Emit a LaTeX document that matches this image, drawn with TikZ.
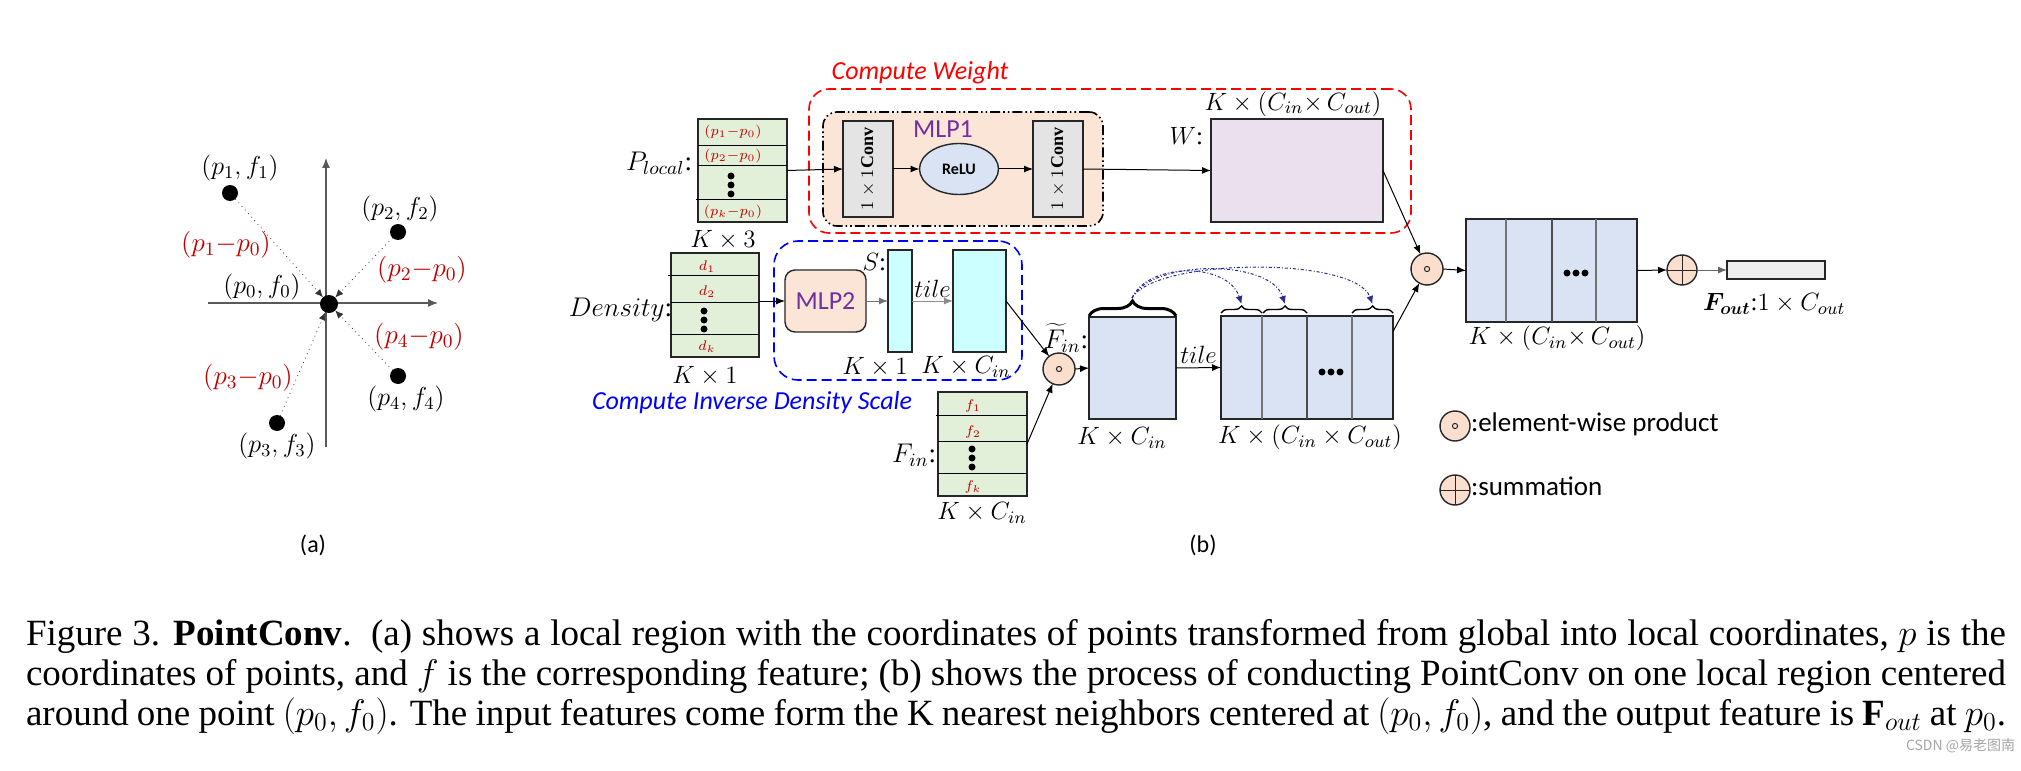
\RequirePackage{fix-cm}
\documentclass[tikz,border=0pt]{standalone}
\usepackage{fontspec}
\setmainfont{Liberation Serif}
\newfontfamily\calib{Carlito}
\newfontfamily\cjkfont{Noto Sans CJK SC}
\usepackage{bm}
\usetikzlibrary{arrows.meta,decorations.pathreplacing,shapes.geometric}
\definecolor{dred}{HTML}{C00000}
\definecolor{tgreen}{HTML}{E2EFD9}
\definecolor{peach}{HTML}{FBE5D6}
\definecolor{peach2}{HTML}{FADFCF}
\definecolor{cgray}{HTML}{E4E4E4}
\definecolor{lblue}{HTML}{DAE3F3}
\definecolor{lav}{HTML}{EBE1EE}
\definecolor{cyanb}{HTML}{CCFFFF}
\definecolor{fgray}{HTML}{EDEDED}
\definecolor{purp}{HTML}{7030A0}
\definecolor{navy}{HTML}{2A2F8F}
\begin{document}
\begin{tikzpicture}[x=0.5pt,y=-0.5pt,
  every node/.style={inner sep=0pt, outer sep=0pt},
  lab/.style={font=\fontsize{12.5}{14}\selectfont},
  plab/.style={font=\fontsize{13}{15}\selectfont},
  rlab/.style={font=\fontsize{13.5}{15}\selectfont, text=dred},
  cell/.style={font=\fontsize{7}{8}\selectfont, text=dred},
  dot/.style={circle, fill=black, minimum size=8pt},
  axis/.style={-{Latex[length=5pt,width=4pt]}, line width=0.6pt, draw=black!65},
  darr/.style={-{Latex[length=4pt,width=3.5pt]}, line width=0.4pt, dotted, draw=black!80},
  bx/.style={draw=black!85, line width=0.7pt},
  tbl/.style={bx, fill=tgreen},
  conv/.style={bx, fill=cgray, minimum width=25pt, minimum height=48pt},
  arr/.style={-{Latex[length=4.5pt,width=3.5pt]}, line width=0.5pt},
  capt/.style={font=\calib\fontsize{12}{14}\selectfont},
  op/.style={circle, draw=black!85, line width=0.7pt, fill=peach2, minimum size=16pt},
  odot/.style={op, path picture={\draw[line width=0.5pt] (path picture bounding box.center) circle (1.3pt);}},
  oplus/.style={op, path picture={\draw[line width=0.5pt] (path picture bounding box.north) -- (path picture bounding box.south) (path picture bounding box.west) -- (path picture bounding box.east);}},
  arcd/.style={-{Latex[length=4pt,width=3.5pt]}, draw=navy, line width=0.5pt, dash pattern=on 1.5pt off 1pt on 0.5pt off 1pt},
  sbrace/.style={decorate, decoration={brace, amplitude=3.5pt}, line width=0.7pt},
]
\useasboundingbox (0,0) rectangle (2021,770);
\fill[white] (0,0) rectangle (2021,770);

% ---------------- (a) ----------------
\draw[axis] (208,303) -- (438,303);
\draw[axis] (326,447) -- (326,158);
\node[dot, minimum size=9pt] (p0) at (329,304) {};
\node[dot] (p1) at (230,193) {};
\node[dot] (p2) at (398,232) {};
\node[dot] (p3) at (277,423) {};
\node[dot] (p4) at (398,376) {};
\draw[darr] (p1) -- (p0);
\draw[darr] (p2) -- (p0);
\draw[darr] (p3) -- (p0);
\draw[darr] (p4) -- (p0);
\node[plab] (l1) at (240,168) {$(p_1, f_1)$};
\node[plab] (l2) at (400,209) {$(p_2, f_2)$};
\node[plab] (l0) at (262,287) {$(p_0, f_0)$};
\node[plab] (l4) at (406,399) {$(p_4, f_4)$};
\node[plab] (l3) at (277,446) {$(p_3, f_3)$};
\node[rlab] (r1) at (226,245) {$(p_1{-}p_0)$};
\node[rlab] (r2) at (422,270) {$(p_2{-}p_0)$};
\node[rlab] (r4) at (419,337) {$(p_4{-}p_0)$};
\node[rlab] (r3) at (248,378) {$(p_3{-}p_0)$};
\node[capt] (la) at (313,545) {(a)};

% ---------------- (b) ----------------
% Compute Weight group
\node[draw=red, line width=0.8pt, dash pattern=on 5pt off 2.5pt, rounded corners=10pt,
      minimum width=301pt, minimum height=72pt] (cw) at (1110,161) {};
\node[font=\calib\itshape\fontsize{13}{14}\selectfont, text=red] (cwt) at (920,73) {Compute Weight};
\node[draw=black, fill=peach, line width=0.8pt, rounded corners=7pt,
      dash pattern=on 5pt off 1.5pt on 0.8pt off 1.5pt on 0.8pt off 1.5pt,
      minimum width=140pt, minimum height=57pt] (mlp1) at (963,169) {};
\node[font=\calib\fontsize{13}{14}\selectfont, text=purp] (mlp1t) at (943,129) {MLP1};
\node[conv] (c1) at (868,169) {};
\node[rotate=90, font=\fontsize{9}{10}\selectfont] (c1t) at (c1) {$1\times 1$\textbf{Conv}};
\node[ellipse, bx, fill=lblue, minimum width=39.5pt, minimum height=25.5pt,
      font=\calib\bfseries\fontsize{8}{9}\selectfont] (relu) at (959,169) {ReLU};
\node[conv] (c2) at (1058,169) {};
\node[rotate=90, font=\fontsize{9}{10}\selectfont] (c2t) at (c2) {$1\times 1$\textbf{Conv}};
\node[bx, fill=lav, minimum width=86pt, minimum height=51.5pt] (wbox) at (1297,170.5) {};
\node[lab, anchor=east] (wl) at (1203,136) {$W$:};
\node[lab] (wd) at (1293,104) {$K\times(C_{in}{\times}\,C_{out})$};

% P_local table
\node[tbl, minimum width=44.5pt, minimum height=51.5pt] (plt) at (742.5,170.5) {};
\draw[line width=0.5pt] (698,146) -- (787,146) (698,166) -- (787,166) (696,200) -- (787,200);
\node[cell] (pr1) at (733,132) {$(p_1{-}p_0)$};
\node[cell] (pr2) at (733,156) {$(p_2{-}p_0)$};
\node[cell] (prk) at (733,212) {$(p_k{-}p_0)$};
\fill (731,176) circle (3.5) (731,185) circle (3.5) (731,194) circle (3.5);
\node[font=\fontsize{13.5}{15}\selectfont, anchor=east] (pl) at (692,163) {$P_{local}$:};
\node[lab] (pd) at (723,240) {$K\times 3$};

% Density / Compute Inverse Density Scale
\node[draw=blue, line width=0.8pt, dash pattern=on 5pt off 2.5pt, rounded corners=12pt,
      minimum width=124pt, minimum height=69.5pt] (cid) at (898,310.5) {};
\node[font=\calib\itshape\fontsize{13}{14}\selectfont, text=blue] (cidt) at (752,403) {Compute Inverse Density Scale};
\node[tbl, minimum width=44pt, minimum height=52pt] (dt) at (715,305) {};
\draw[line width=0.5pt] (668,275) -- (759,275) (671,302) -- (759,302) (671,334) -- (759,334);
\node[cell] (d1) at (707,267) {$d_1$};
\node[cell] (d2) at (707,292) {$d_2$};
\node[cell] (dk) at (707,347) {$d_k$};
\fill (704,311) circle (3.5) (704,320) circle (3.5) (704,329) circle (3.5);
\node[font=\fontsize{13.5}{15}\selectfont, anchor=east] (dl) at (672,310) {$Density$:};
\node[lab] (dd) at (705,376) {$K\times 1$};
\node[bx, fill=peach, rounded corners=5pt, minimum width=40.5pt, minimum height=31pt,
      font=\calib\fontsize{13}{14}\selectfont, text=purp] (mlp2) at (825.5,301) {MLP2};
\node[bx, fill=cyanb, minimum width=12pt, minimum height=51pt] (s) at (900,301) {};
\node[lab, anchor=east] (sl) at (886,262) {$S$:};
\node[lab] (sd) at (875,367) {$K\times 1$};
\node[bx, fill=cyanb, minimum width=26.5pt, minimum height=51pt] (st) at (979.5,301) {};
\node[lab] (std) at (966,367) {$K\times C_{in}$};

% F_in table
\node[tbl, minimum width=44.5pt, minimum height=52pt] (ft) at (982.5,444) {};
\draw[line width=0.5pt] (936,415) -- (1027,415) (938,441) -- (1027,441) (938,473) -- (1027,473);
\node[cell] (f1) at (973,406) {$f_1$};
\node[cell] (f2) at (973,432) {$f_2$};
\node[cell] (fk) at (973,487) {$f_k$};
\fill (972,449) circle (3.5) (972,458) circle (3.5) (972,467) circle (3.5);
\node[font=\fontsize{13.5}{15}\selectfont, anchor=east] (fl) at (936,455) {$F_{in}$:};
\node[lab] (fd) at (982,513) {$K\times C_{in}$};

% element-wise product and tiled features
\node[odot] (od1) at (1059,369) {};
\node[bx, fill=lblue, minimum width=43.5pt, minimum height=51pt] (fb) at (1132.5,368) {};
\node[font=\fontsize{13.5}{15}\selectfont, anchor=east] (fbl) at (1088,338) {$\widetilde{F}_{in}$:};
\node[lab] (fbd) at (1122,438) {$K\times C_{in}$};
\node[bx, fill=lblue, minimum width=86pt, minimum height=51.5pt] (bb) at (1307,367.5) {};
\draw[line width=0.6pt, draw=black!55] (1262,316) -- (1262,419);
\draw[line width=0.6pt, draw=black!70] (1307,316) -- (1307,419);
\draw[line width=0.6pt, draw=black!55] (1352,316) -- (1352,419);
\fill (1322,372) circle (3.5) (1331,372) circle (3.5) (1340,372) circle (3.5);
\node[lab] (bbd) at (1310,437) {$K\times(C_{in}\times C_{out})$};

% braces and dotted arcs
\draw[decorate, decoration={brace, amplitude=7.5pt}, line width=1.5pt] (1089,316) -- (1176,316);
\draw[sbrace] (1221,313) -- (1262,313);
\draw[sbrace] (1263,313) -- (1307,313);
\draw[sbrace] (1352,313) -- (1393,313);
\coordinate (bt0) at (1132,298);
\coordinate (bt1) at (1241.5,304);
\coordinate (bt2) at (1285,304);
\coordinate (bt3) at (1372.5,304);
\draw[arcd] (bt0) .. controls (1148,262) and (1228,262) .. (bt1);
\draw[arcd] (bt0) .. controls (1150,260) and (1270,258) .. (bt2);
\draw[arcd] (bt0) .. controls (1155,258) and (1355,256) .. (bt3);

% second product, summation, output
\node[odot] (od2) at (1427,269) {};
\node[bx, fill=lblue, minimum width=85.5pt, minimum height=51.5pt] (fin) at (1551.5,270.5) {};
\draw[line width=0.6pt, draw=black!55] (1506,219) -- (1506,322);
\draw[line width=0.6pt, draw=black!70] (1552,219) -- (1552,322);
\draw[line width=0.6pt, draw=black!55] (1596,219) -- (1596,322);
\fill (1567,273) circle (3.5) (1576,273) circle (3.5) (1585,273) circle (3.5);
\node[lab] (find) at (1557,338) {$K\times(C_{in}{\times}\,C_{out})$};
\node[oplus, minimum size=15pt] (opl) at (1682,270) {};
\node[bx, fill=fgray, minimum width=49pt, minimum height=9pt] (fout) at (1776,270) {};
\node[lab, anchor=west] (foutl) at (1703,304) {$\bm{F_{out}}$:$1\times C_{out}$};

% connectors
\draw[arr] (plt.east) -- (c1.west);
\draw[arr] (c1.east) -- (relu.west);
\draw[arr] (relu.east) -- (c2.west);
\draw[arr] (c2.east) -- (wbox.west);
\draw[arr] (dt.east |- mlp2.west) -- (mlp2.west);
\draw[arr, draw=black!55] (mlp2.east) -- (s.west);
\draw[arr, draw=black!45] (s.east) -- node[lab, above=2pt] (t1) {$tile$} (st.west);
\draw[arr] (st.east) -- (od1);
\draw[arr] (ft.east) -- (od1);
\draw[arr] (od1.east) -- (fb.west);
\draw[arr] (fb.east) -- node[lab, above=2pt] (t2) {$tile$} (bb.west);
\draw[arr] ([yshift=18pt]bb.east) -- (od2);
\draw[arr] (wbox.east) -- (od2);
\draw[arr] (od2.east) -- (fin.west);
\draw[arr] (fin.east) -- (opl.west);
\draw[arr, draw=black!60] (opl.east) -- (fout.west);

% legend
\node[odot, minimum size=15pt] (lg1) at (1455,426) {};
\node[font=\calib\fontsize{13.5}{15}\selectfont, anchor=west] (lg1t) at (1471,424) {:element-wise product};
\node[oplus, minimum size=15pt] (lg2) at (1455,490) {};
\node[font=\calib\fontsize{13.5}{15}\selectfont, anchor=west] (lg2t) at (1471,486) {:summation};
\node[capt] (lb) at (1203,545) {(b)};

% caption
\node[anchor=north west, align=left, font=\fontsize{18.5}{20}\selectfont] (cap) at (26,619)
{\makebox[990pt][s]{Figure 3. \textbf{PointConv}.\ \ (a) shows a local region with the coordinates of points transformed from global into local coordinates, $p$ is the}\\
\makebox[990pt][s]{coordinates of points, and $f$ is the corresponding feature; (b) shows the process of conducting PointConv on one local region centered}\\
\makebox[990pt][s]{around one point $(p_0, f_0)$. The input features come form the K nearest neighbors centered at $(p_0, f_0)$, and the output feature is $\mathbf{F}_{out}$ at $p_0$.}};
\node[font=\cjkfont\fontsize{7}{8}\selectfont, text=black!35, anchor=east] (wm) at (2015,746) {CSDN @易老图南};
\end{tikzpicture}
\end{document}
